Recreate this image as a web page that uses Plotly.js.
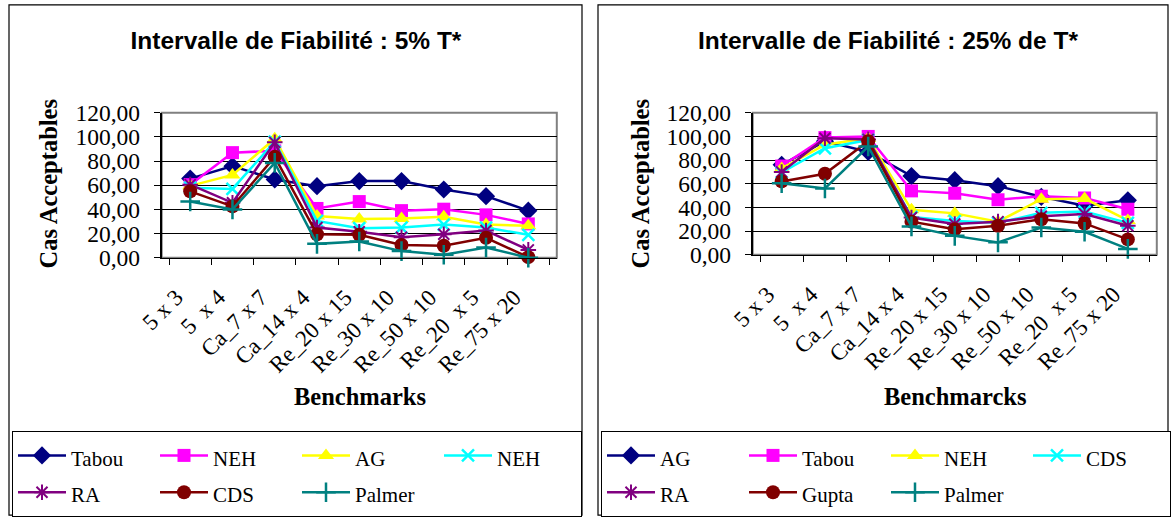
<!DOCTYPE html>
<html><head><meta charset="utf-8">
<script src="https://cdn.plot.ly/plotly-3.0.1.min.js"></script>
<style>
body{margin:0;background:#fff;}
#left{position:absolute;left:0;top:0;width:590px;height:517px;}
#right{position:absolute;left:590px;top:0;width:581px;height:517px;}
</style></head><body>
<div id="left"></div><div id="right"></div>
<script>
// ---- data ----
const categories = ["5 x 3","5  x 4","Ca_7 x 7","Ca_14 x 4","Re_20 x 15","Re_30 x 10","Re_50 x 10","Re_20  x 5","Re_75 x 20"];

const leftTitle = "Intervalle de Fiabilité : 5% T*";
const leftXTitle = "Benchmarks";
const leftNames = ["Tabou","NEH","AG","NEH","RA","CDS","Palmer"];
const left_tabou  = [65.5, 75.8, 64.8, 59.2, 63.5, 63.5, 56.5, 51.0, 39.0];
const left_neh    = [60.5, 87.0, 88.5, 40.8, 46.5, 39.0, 40.2, 35.5, 28.0];
const left_ag     = [59.5, 68.5, 98.5, 34.5, 32.0, 32.5, 34.0, 27.5, 26.5];
const left_neh2   = [58.0, 57.0, 96.0, 30.5, 24.5, 25.0, 27.5, 25.0, 19.0];
const left_ra     = [60.5, 45.5, 95.5, 25.0, 21.5, 17.0, 19.5, 22.5, 6.5];
const left_cds    = [55.0, 42.5, 83.5, 19.5, 19.0, 10.5, 10.0, 16.5, 0.5];
const left_palmer = [46.5, 40.0, 78.5, 11.5, 13.5, 5.5, 2.5, 8.5, 0.0];

const rightTitle = "Intervalle de Fiabilité : 25% de T*";
const rightXTitle = "Benchmarcks";
const rightNames = ["AG","Tabou","NEH","CDS","RA","Gupta","Palmer"];
const right_ag     = [76.0, 96.0, 87.0, 66.5, 63.0, 58.0, 49.0, 41.5, 46.0];
const right_tabou  = [75.0, 99.0, 100.0, 54.0, 52.0, 46.5, 49.5, 48.0, 38.5];
const right_neh    = [73.0, 93.0, 98.5, 38.0, 35.0, 28.0, 47.0, 47.5, 29.0];
const right_cds    = [69.5, 90.0, 97.0, 32.0, 28.5, 27.0, 35.5, 36.5, 27.0];
const right_ra     = [70.0, 98.5, 97.5, 31.5, 26.0, 28.0, 32.5, 34.5, 24.5];
const right_gupta  = [62.0, 68.5, 96.0, 28.0, 21.5, 24.5, 30.0, 26.5, 13.0];
const right_palmer = [60.5, 56.0, 91.5, 24.0, 16.0, 10.5, 23.0, 19.5, 5.0];

const yAxisTitle = "Cas Acceptables";

// ---- styles (by series position) ----
const styles = [
  {color:"#000080", symbol:"diamond", size:14, lw:0},
  {color:"#FF00FF", symbol:"square", size:13, lw:0},
  {color:"#FFFF00", symbol:"triangle-up", size:14, lw:0},
  {color:"#00FFFF", symbol:"x-thin-open", size:12, lw:2.5},
  {color:"#800080", symbol:"asterisk-open", size:13, lw:2},
  {color:"#800000", symbol:"circle", size:14, lw:0},
  {color:"#008080", symbol:"cross-thin-open", size:14, lw:2.5}
];

const SERIF = "Liberation Serif";
const SANS = "Liberation Sans";

function makeChart(divId, W, names, series, title, xtitle, geo) {
  const traces = series.map((vals, i) => ({
    type: "scatter", mode: "lines+markers",
    x: categories, y: vals,
    name: names[i],
    line: {color: styles[i].color, width: 2.5},
    marker: {symbol: styles[i].symbol, size: styles[i].size, color: styles[i].color,
             line: {color: styles[i].color, width: styles[i].lw}},
    cliponaxis: false
  }));
  const H = 517;
  const layout = {
    width: W, height: H,
    margin: {l:0, r:0, t:0, b:0},
    paper_bgcolor: "white", plot_bgcolor: "white",
    separators: ", ",
    font: {family: SERIF, color: "black"},
    showlegend: true,
    title: {text: "<b>" + title + "</b>", x: geo.titleX / W, xanchor: "center", y: 1 - 40 / H, yanchor: "middle",
            font: {family: SANS, size: 24.5, color: "black"}},
    xaxis: {
      domain: [geo.px0 / W, geo.px1 / W], type: "category", tickson: "boundaries",
      ticks: "outside", ticklen: 6, tickcolor: "black", tickwidth: 1,
      showline: true, linecolor: "black", linewidth: 1, showgrid: false, zeroline: false,
      tickangle: -45, tickfont: {family: SERIF, size: 23, color: "black"},
      ticklabelstandoff: 16, ticklabelshift: -14, fixedrange: true
    },
    yaxis: {
      domain: [1 - geo.py1 / H, 1 - geo.py0 / H], range: [0, 120], dtick: 20, tick0: 0,
      tickformat: ".2f", ticks: "outside", ticklen: 6, tickcolor: "black",
      showline: true, linecolor: "black", linewidth: 2,
      showgrid: true, gridcolor: "black", gridwidth: 1, zeroline: false,
      tickfont: {family: SERIF, size: 23.5, color: "black"}, ticklabelstandoff: 9, fixedrange: true
    },
    legend: {
      orientation: "h", x: geo.lx / W, xanchor: "left", y: 1 - 437 / H, yanchor: "top",
      bordercolor: "black", borderwidth: 1, bgcolor: "white",
      font: {family: SERIF, size: 26, color: "black"},
      itemwidth: 48, entrywidth: 79, entrywidthmode: "pixels", traceorder: "normal"
    },
    shapes: [
      {type: "rect", xref: "paper", yref: "paper", x0: geo.bx0 / W, x1: geo.bx1 / W, y0: -0.01, y1: 1 - 5 / H,
       line: {color: "black", width: 1.2}, layer: "below"},
      {type: "rect", xref: "x domain", yref: "y domain", x0: 0, x1: 1, y0: 0, y1: 1,
       line: {color: "#808080", width: 2}, layer: "below"}
    ],
    annotations: [
      {text: "<b>" + yAxisTitle + "</b>", xref: "paper", yref: "paper", x: geo.ytX / W, y: 1 - 187 / H,
       textangle: -90, showarrow: false, xanchor: "center", yanchor: "middle",
       font: {family: SERIF, size: 24.5, color: "black"}},
      {text: "<b>" + xtitle + "</b>", xref: "paper", yref: "paper", x: geo.xtX / W, y: 1 - 402 / H,
       showarrow: false, xanchor: "center", yanchor: "middle",
       font: {family: SERIF, size: 24.5, color: "black"}}
    ]
  };
  Plotly.newPlot(divId, traces, layout, {displayModeBar: false, staticPlot: true}).then(() => {
    // legend labels slightly smaller than the row height font
    document.querySelectorAll("#" + divId + " .legendtext").forEach(t => { t.style.fontSize = "21px"; });
  });
}

makeChart("left", 590, leftNames,
  [left_tabou, left_neh, left_ag, left_neh2, left_ra, left_cds, left_palmer],
  leftTitle, leftXTitle,
  {px0: 161.7, px1: 556.8, py0: 114.3, py1: 261.3, titleX: 296, ytX: 48, xtX: 360, lx: 12, bx0: 9, bx1: 582});

makeChart("right", 581, rightNames,
  [right_ag, right_tabou, right_neh, right_cds, right_ra, right_gupta, right_palmer],
  rightTitle, rightXTitle,
  {px0: 162.7, px1: 566.8, py0: 114.3, py1: 258.3, titleX: 298, ytX: 50, xtX: 365, lx: 13, bx0: 8, bx1: 578});
</script>
</body></html>
